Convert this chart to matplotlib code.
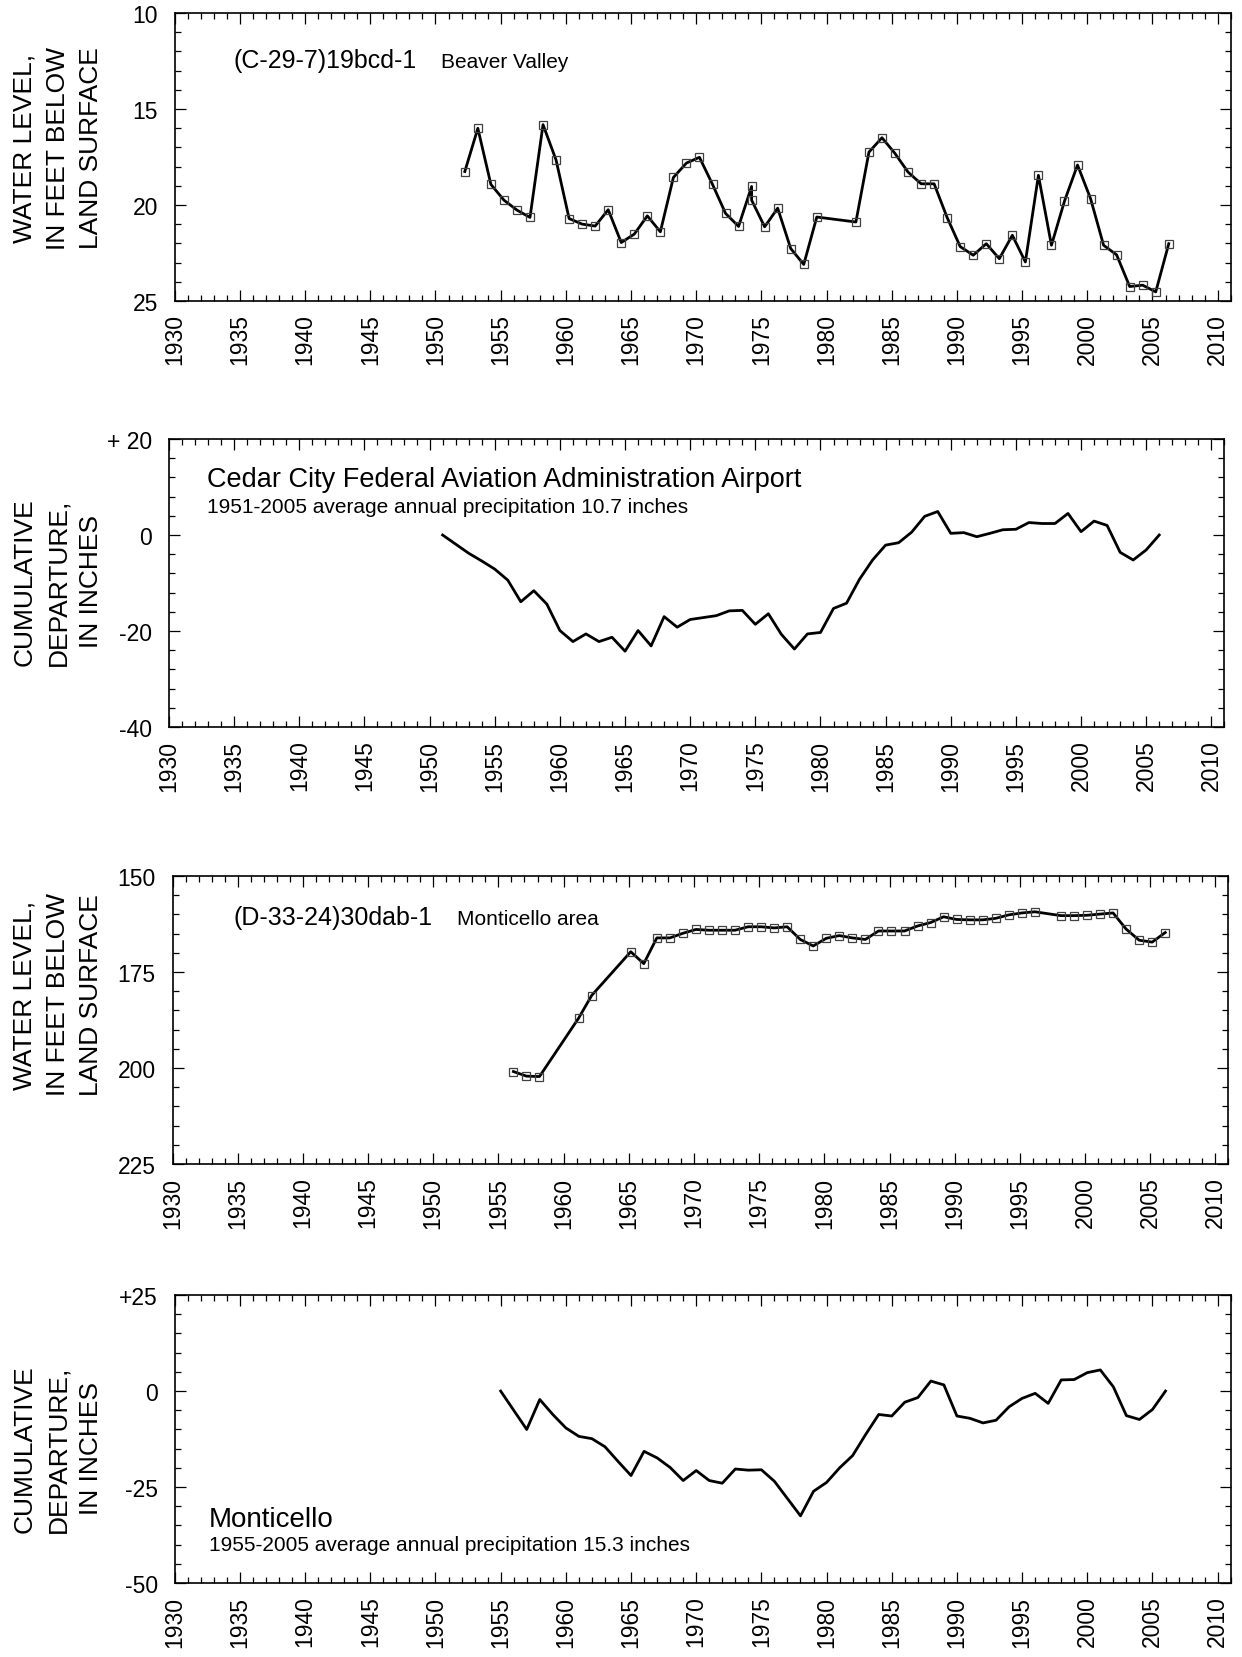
import matplotlib.pyplot as plt
from matplotlib.ticker import MultipleLocator

plt.rcParams['font.family'] = ['Liberation Sans', 'DejaVu Sans']

# Уровень воды, скважина (C-29-7)19bcd-1, Beaver Valley (футы ниже поверхности)
beaver_years = [1952, 1953, 1954, 1955, 1956, 1957, 1958, 1959, 1960, 1961,
                1962, 1963, 1964, 1965, 1966, 1967, 1968, 1969, 1970, 1971,
                1972, 1973, 1974, 1974, 1975, 1976, 1977, 1978, 1979, 1982,
                1983, 1984, 1985, 1986, 1987, 1988, 1989, 1990, 1991, 1992,
                1993, 1994, 1995, 1996, 1997, 1998, 1999, 2000, 2001, 2002,
                2003, 2004, 2005, 2006]
beaver_level = [18.26, 16.01, 18.93, 19.75, 20.27, 20.65, 15.82, 17.66, 20.71, 21.0,
                21.1, 20.25, 21.96, 21.52, 20.57, 21.4, 18.57, 17.82, 17.52, 18.93,
                20.44, 21.12, 19.04, 19.75, 21.14, 20.17, 22.27, 23.1, 20.63, 20.89,
                17.25, 16.5, 17.32, 18.29, 18.9, 18.9, 20.66, 22.17, 22.62, 22.02,
                22.8, 21.58, 22.97, 18.46, 22.1, 19.8, 17.92, 19.67, 22.1, 22.6,
                24.25, 24.18, 24.53, 22.02]

# Накопленное отклонение осадков, Cedar City (дюймы)
cedar_years = list(range(1951, 2007))
cedar_dep = [0, -1.9, -3.8, -5.4, -7.1, -9.4, -13.9, -11.6, -14.4, -19.9,
             -22.2, -20.6, -22.2, -21.3, -24.2, -19.9, -23.1, -17.0, -19.2, -17.6,
             -17.2, -16.8, -15.8, -15.7, -18.6, -16.4, -20.7, -23.75, -20.6, -20.3,
             -15.3, -14.2, -9.2, -5.2, -2.1, -1.6, 0.6, 3.9, 4.9, 0.35,
             0.5, -0.35, 0.35, 1.1, 1.2, 2.6, 2.4, 2.4, 4.5, 0.7,
             2.9, 2.0, -3.6, -5.2, -3.1, 0]

# Уровень воды, скважина (D-33-24)30dab-1, Monticello area
mont_years = [1956, 1957, 1958, 1961, 1962, 1965, 1966, 1967, 1968, 1969,
              1970, 1971, 1972, 1973, 1974, 1975, 1976, 1977, 1978, 1979,
              1980, 1981, 1982, 1983, 1984, 1985, 1986, 1987, 1988, 1989,
              1990, 1991, 1992, 1993, 1994, 1995, 1996, 1998, 1999, 2000,
              2001, 2002, 2003, 2004, 2005, 2006]
mont_level = [200.9, 202.1, 202.2, 187.0, 181.1, 169.7, 172.8, 166.1, 166.1, 164.9,
              163.9, 164.1, 164.1, 164.1, 163.2, 163.2, 163.5, 163.2, 166.5, 168.2,
              166.2, 165.5, 166.1, 166.5, 164.3, 164.3, 164.3, 163.0, 162.1, 160.6,
              161.3, 161.4, 161.4, 161.0, 160.1, 159.6, 159.3, 160.3, 160.3, 160.2,
              159.9, 159.6, 163.8, 166.7, 167.2, 164.7]

# Накопленное отклонение осадков, Monticello
mprec_years = list(range(1955, 2007))
mprec_dep = [0, -5.0, -10.0, -2.2, -6.1, -9.6, -11.8, -12.4, -14.5, -18.3,
             -22.0, -15.7, -17.4, -19.9, -23.3, -20.7, -23.3, -24.0, -20.3, -20.6,
             -20.5, -23.5, -28.0, -32.5, -26.1, -23.8, -20.0, -16.8, -11.3, -6.1,
             -6.5, -2.9, -1.7, 2.6, 1.6, -6.5, -7.1, -8.3, -7.6, -4.1,
             -1.9, -0.6, -3.2, 2.9, 3.0, 4.8, 5.5, 1.1, -6.4, -7.4,
             -4.8, 0]

# Замеры уровня сделаны весной, смещение внутри года
date_shift_beaver = 0.25
date_shift_mont = 0.15

fig = plt.figure(figsize=(12.42, 16.58), dpi=100)


def setup_axes(rect, ylim, ymajor, yminor, yticklabels):
    ax = fig.add_axes(rect)
    ax.set_xlim(1930, 2011)
    ax.set_ylim(*ylim)
    ax.xaxis.set_minor_locator(MultipleLocator(1))
    ax.set_xticks(list(range(1930, 2011, 5)))
    ax.set_xticklabels([str(y) for y in range(1930, 2011, 5)], rotation=90)
    ax.set_yticks(ymajor)
    ax.set_yticklabels(yticklabels)
    ax.yaxis.set_minor_locator(MultipleLocator(yminor))
    ax.tick_params(which='both', direction='in', top=True, right=True, width=0.9)
    ax.tick_params(which='major', length=8)
    ax.tick_params(which='minor', length=4.3)
    ax.tick_params(axis='x', labelsize=16.5, pad=9)
    ax.tick_params(axis='y', labelsize=16.5, pad=12)
    for s in ax.spines.values():
        s.set_linewidth(1.2)
    return ax


def ylabel(text, y_px):
    fig.text(58 / 1242, 1 - y_px / 1658, text, rotation=90, ha='center', va='center',
             multialignment='center', fontsize=19, linespacing=1.5)


# Панель 1
ax1 = setup_axes([0.1407, 0.8179, 0.8502, 0.1737], (25, 10), [10, 15, 20, 25], 1,
                 ['10', '15', '20', '25'])
ax1.plot([y + date_shift_beaver for y in beaver_years], beaver_level, '-', color='black',
         lw=2.0, marker='s', ms=5.8, mfc='none', mec='#404040', mew=0.9)
ax1.text(0.0552, 0.8115, '(C-29-7)19bcd-1', transform=ax1.transAxes, fontsize=18,
         va='baseline')
ax1.text(0.252, 0.8115, 'Beaver Valley', transform=ax1.transAxes, fontsize=15,
         va='baseline')
ylabel('WATER LEVEL,\nIN FEET BELOW\nLAND SURFACE', 148)

# Панель 2
ax2 = setup_axes([0.1361, 0.5609, 0.8497, 0.1737], (-40, 20), [20, 0, -20, -40], 4,
                 ['+ 20', '0', '-20', '-40'])
ax2.plot(cedar_years, cedar_dep, '-', color='black', lw=2.0)
ax2.text(0.036, 0.838, 'Cedar City Federal Aviation Administration Airport',
         transform=ax2.transAxes, fontsize=19.5, va='baseline')
ax2.text(0.036, 0.745, '1951-2005 average annual precipitation 10.7 inches',
         transform=ax2.transAxes, fontsize=15, va='baseline')
ylabel('CUMULATIVE\nDEPARTURE,\nIN INCHES', 582)

# Панель 3
ax3 = setup_axes([0.1389, 0.2973, 0.8502, 0.1737], (225, 150), [150, 175, 200, 225], 5,
                 ['150', '175', '200', '225'])
ax3.plot([y + date_shift_mont for y in mont_years], mont_level, '-', color='black',
         lw=2.0, marker='s', ms=5.8, mfc='none', mec='#404040', mew=0.9)
ax3.text(0.0573, 0.833, '(D-33-24)30dab-1', transform=ax3.transAxes, fontsize=18,
         va='baseline')
ax3.text(0.269, 0.833, 'Monticello area', transform=ax3.transAxes, fontsize=15,
         va='baseline')
ylabel('WATER LEVEL,\nIN FEET BELOW\nLAND SURFACE', 995)

# Панель 4
ax4 = setup_axes([0.1407, 0.0446, 0.8502, 0.1737], (-50, 25), [25, 0, -25, -50], 5,
                 ['+25', '0', '-25', '-50'])
ax4.plot(mprec_years, mprec_dep, '-', color='black', lw=2.0)
ax4.text(0.0325, 0.199, 'Monticello', transform=ax4.transAxes, fontsize=20,
         va='baseline')
ax4.text(0.0325, 0.116, '1955-2005 average annual precipitation 15.3 inches',
         transform=ax4.transAxes, fontsize=15, va='baseline')
ylabel('CUMULATIVE\nDEPARTURE,\nIN INCHES', 1449)

fig.savefig('out.png', dpi=100)
